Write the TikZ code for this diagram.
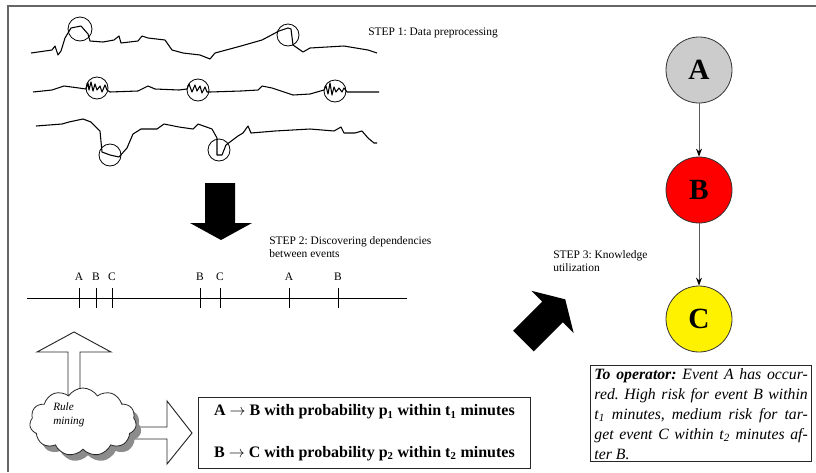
\documentclass[tikz,border=0pt]{standalone}
\usepackage{fontspec}
\setmainfont{Liberation Serif}
\usetikzlibrary{shapes.symbols, arrows.meta}

\tikzset{
  signal/.style={line width=0.8pt, line join=round},
  spot/.style={line width=0.6pt},
  steptext/.style={anchor=west, align=left, inner sep=0pt, font=\fontsize{8.6}{9.3}\selectfont},
  ticklab/.style={inner sep=0pt, font=\fontsize{8.6}{10}\selectfont},
  evnode/.style={circle, draw=black!80, line width=0.6pt, minimum size=49.5pt, inner sep=0pt,
    font=\fontsize{22}{24}\selectfont\bfseries},
  cloudshape/.style={cloud, cloud puffs=11, cloud puff arc=115, aspect=1.55,
    minimum width=80pt, minimum height=51pt, inner sep=0pt},
  hollow/.style={draw=black!85, line width=0.7pt, fill=white, line join=miter},
  boxed/.style={draw=black!85, line width=0.7pt}
}

\begin{document}
\frenchspacing
\begin{tikzpicture}[x=0.75pt, y=-0.75pt]
  \useasboundingbox (0,0) rectangle (816,472);

  % frame
  \draw[black!60, line width=1.5pt] (8,472) -- (8,6) -- (816,6);

  % STEP 1: the raw signals
  \draw[signal] plot coordinates {(31,53) (52,50) (55,46) (58,55) (61,51) (65,38) (71,28) (81,26) (88,34)
    (90,41) (103,42) (114,40) (119,36) (121,43) (138,41) (142,36) (148,38) (165,40) (172,50) (183,53)
    (200,55) (210,59) (215,53) (241,46) (262,40) (279,31) (288,28) (291,29) (293,45) (303,52) (310,48)
    (344,46) (368,50) (377,53)};
  \draw[signal] plot coordinates {(33,92) (52,90) (64,86) (79,88) (86,89) (88,83) (89,90) (91,82) (93,91)
    (95,84) (97,90) (100,86) (102,92) (105,85) (107,90) (110,92) (138,91) (148,86) (155,89) (179,90)
    (187,89) (189,84) (192,92) (195,85) (197,91) (200,86) (202,93) (205,87) (207,92) (210,92) (241,91)
    (258,90) (262,86) (272,88) (293,95) (310,94) (324,90) (326,86) (328,94) (330,83) (332,95) (334,87)
    (336,92) (339,88) (342,92) (344,88) (347,92) (379,92)};
  \draw[signal] plot coordinates {(36,126) (62,124) (69,122) (83,119) (91,122) (100,131) (102,152)
    (110,155) (119,157) (127,148) (133,134) (141,129) (157,129) (164,124) (179,127) (193,129) (198,124)
    (212,129) (217,138) (217,155) (222,155) (226,145) (238,136) (243,133) (248,126) (251,133) (275,131)
    (310,129) (334,131) (341,127) (344,133) (355,133) (362,131) (368,138) (374,143) (377,143)};

  % marked spots
  \draw[spot] (80,29) circle [radius=12];
  \draw[spot] (288,35) circle [radius=11];
  \foreach \cx/\cy in {97/88, 198/90, 335/91, 110/155, 219/150}
    \draw[spot] (\cx,\cy) circle [radius=11];

  \node[steptext] (step1) at (368,33) {STEP 1: Data preprocessing};

  % down arrow
  \fill (205,183) -- (235,183) -- (235,223) -- (252,223) -- (221,240) -- (190,223) -- (205,223) -- cycle;

  % STEP 2: event time line
  \node[steptext] (step2) at (269,247) {STEP 2: Discovering dependencies\\between events};
  \draw[line width=0.6pt] (27,298) -- (407,298);
  \foreach \x/\lab in {79/A, 96/B, 112/C, 200/B, 220/C, 289/A, 338/B} {
    \draw[line width=0.6pt] (\x,288) -- (\x,308);
    \node[ticklab] (lab\x) at (\x,277) {\lab};
  }

  % rule mining
  \draw[hollow] (68,395) -- (68,352) -- (37,352) -- (74,332) -- (111,352) -- (80,352) -- (80,395) -- cycle;
  \draw[hollow] (120,427) -- (167,427) -- (167,401) -- (192,433) -- (167,464) -- (167,439) -- (120,439) -- cycle;
  \node[cloudshape, fill=black!45] (shade) at (88,428) {};
  \node[cloudshape, draw=black!85, line width=0.6pt, fill=white] (mining) at (83,422) {};
  \node[anchor=west, align=left, inner sep=0pt, font=\fontsize{8.4}{10.5}\selectfont\itshape]
    (minetxt) at (53,415) {Rule\\mining};

  \node[boxed, anchor=north west, minimum width=249pt, minimum height=53pt, align=center,
    font=\fontsize{12}{31}\selectfont\bfseries] (rules) at (198,397)
    {A $\rightarrow$ B with probability p\textsubscript{1} within t\textsubscript{1} minutes\\
     B $\rightarrow$ C with probability p\textsubscript{2} within t\textsubscript{2} minutes};

  % STEP 3
  \fill (513.2,330.7) -- (542.2,301.7) -- (531.3,290.8) -- (565.2,299.3) -- (573.7,333.2)
    -- (562.8,322.3) -- (533.8,351.3) -- cycle;
  \node[steptext] (step3) at (553,261) {STEP 3: Knowledge\\utilization};

  \node[evnode, fill=black!20] (evA) at (699,70) {A};
  \node[evnode, fill=red] (evB) at (699,190) {B};
  \node[evnode, fill=yellow] (evC) at (699,319) {C};
  \draw[black!65, line width=0.6pt, -{Stealth[black, length=6pt, width=4.5pt]}] (evA) -- (evB);
  \draw[black!65, line width=0.6pt, -{Stealth[black, length=6pt, width=4.5pt]}] (evB) -- (evC);

  \node[boxed, anchor=north west, text width=160pt, inner xsep=3pt, inner ysep=2pt, align=justify,
    font=\fontsize{11.8}{15}\selectfont\itshape] (operator) at (590,365)
    {\textbf{To operator:} Event A has occur-\linebreak
     red. High risk for event B within\linebreak
     t\textsubscript{1} minutes, medium risk for tar-\linebreak
     get event C within t\textsubscript{2} minutes af-\linebreak
     ter B.};
\end{tikzpicture}
\end{document}
